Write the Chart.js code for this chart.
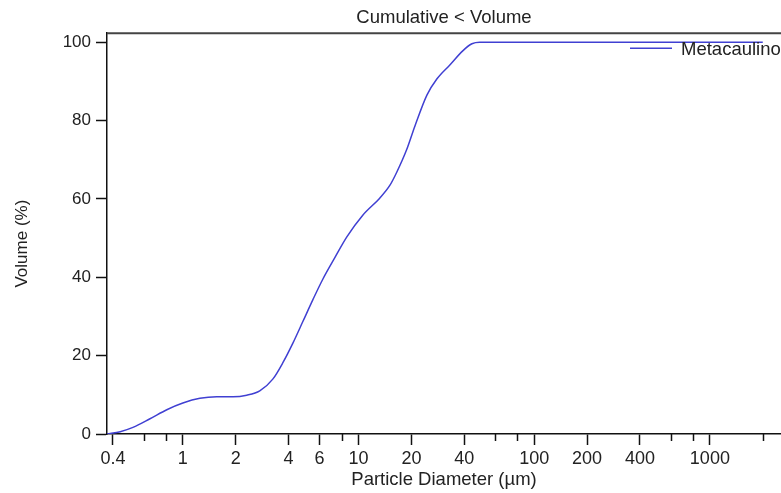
<!DOCTYPE html>
<html>
<head>
<meta charset="utf-8">
<script src="https://cdn.jsdelivr.net/npm/chart.js@4.4.1/dist/chart.umd.min.js"></script>
<style>
    html, body { margin: 0; padding: 0; background: #fff; }
    #wrap { width: 781px; height: 493px; }
</style>
</head>
<body>
<div id="wrap"><canvas id="psdChart" width="781" height="493"></canvas></div>
<script>
// Dữ liệu (đường kính hạt µm / % thể tích tích lũy)
const diameters = [0.37, 0.44, 0.52, 0.65, 0.81, 1.0, 1.25, 1.56, 1.93, 2.31, 2.74, 3.25, 3.71, 4.23, 4.82, 5.5, 6.26, 7.33, 8.58, 10.6, 13.2, 15.1, 16.5, 18.8, 20.9, 24.5, 27.9, 33.1, 39.2, 44.2, 49, 100, 2000];
const volumes = [0, 0.6, 1.7, 3.9, 6.2, 7.9, 9.1, 9.5, 9.5, 9.9, 11.0, 14.0, 18.2, 23.2, 28.7, 34.3, 39.5, 45.0, 50.3, 55.9, 60.2, 63.5, 66.8, 72.6, 78.5, 86.5, 90.6, 94.2, 97.8, 99.6, 100, 100, 100];
const seriesName = 'Metacaulino';

// Nhãn trục
const majorTicks = [0.4, 1, 2, 4, 6, 10, 20, 40, 100, 200, 400, 1000];
const minorTicks = [0.6, 0.8, 8, 60, 80, 600, 800, 2000];
const yTicks = [0, 20, 40, 60, 80, 100];

const FONT = 'Liberation Sans, Arial, sans-serif';
const TEXT = '#222';
const LINE = 'rgb(64, 64, 210)';

// Vẽ vạch phụ, viền trên, tiêu đề trục y và chú thích
const extras = {
    id: 'extras',
    afterDraw(chart) {
        const { ctx, chartArea, scales } = chart;
        ctx.save();
        ctx.strokeStyle = '#111';
        ctx.lineWidth = 1.5;
        minorTicks.forEach(v => {
            const x = Math.round(scales.x.getPixelForValue(v)) + 0.5;
            ctx.beginPath();
            ctx.moveTo(x, chartArea.bottom);
            ctx.lineTo(x, chartArea.bottom + 7);
            ctx.stroke();
        });

        ctx.strokeStyle = '#444';
        ctx.lineWidth = 2;
        ctx.beginPath();
        ctx.moveTo(chartArea.left, chartArea.top);
        ctx.lineTo(chartArea.right, chartArea.top);
        ctx.stroke();

        // tiêu đề trục y
        ctx.save();
        ctx.translate(22, (chartArea.top + chartArea.bottom) / 2 + 10);
        ctx.rotate(-Math.PI / 2);
        ctx.fillStyle = TEXT;
        ctx.font = '17px ' + FONT;
        ctx.textAlign = 'center';
        ctx.textBaseline = 'middle';
        ctx.fillText('Volume (%)', 0, 0);
        ctx.restore();

        // chú thích
        const ly = chartArea.top + 15;
        ctx.strokeStyle = LINE;
        ctx.lineWidth = 1.5;
        ctx.beginPath();
        ctx.moveTo(chartArea.right - 151, ly);
        ctx.lineTo(chartArea.right - 109, ly);
        ctx.stroke();
        ctx.fillStyle = TEXT;
        ctx.font = '18.5px ' + FONT;
        ctx.textBaseline = 'middle';
        ctx.textAlign = 'left';
        ctx.fillText(seriesName, chartArea.right - 100, ly + 2);
        ctx.restore();
    }
};

const ctx = document.getElementById('psdChart').getContext('2d');
const chart = new Chart(ctx, {
    type: 'line',
    data: {
        datasets: [{
            label: seriesName,
            data: diameters.map((d, i) => ({ x: d, y: volumes[i] })),
            borderColor: LINE,
            borderWidth: 1.5,
            pointRadius: 0,
            fill: false,
            cubicInterpolationMode: 'monotone'
        }]
    },
    options: {
        responsive: false,
        animation: false,
        devicePixelRatio: 1,
        layout: { padding: 0 },
        plugins: {
            legend: { display: false },
            tooltip: { enabled: false },
            title: {
                display: true,
                text: 'Cumulative < Volume',
                fullSize: false,
                color: TEXT,
                font: { family: FONT, size: 18.5, weight: 'normal', lineHeight: 1.2 },
                padding: { top: 7, bottom: 4 }
            }
        },
        scales: {
            x: {
                type: 'logarithmic',
                min: 0.37,
                max: 2540,
                afterBuildTicks: scale => {
                    scale.ticks = majorTicks.concat(minorTicks).sort((a, b) => a - b).map(v => ({ value: v }));
                },
                afterFit: scale => { scale.height = 59; },
                ticks: {
                    autoSkip: false,
                    maxRotation: 0,
                    padding: 3,
                    color: TEXT,
                    font: { family: FONT, size: 18 },
                    callback: v => majorTicks.includes(v) ? String(v) : ''
                },
                grid: {
                    drawOnChartArea: false,
                    tickLength: 11,
                    tickWidth: 1.5,
                    tickColor: c => (c.tick && majorTicks.includes(c.tick.value)) ? '#111' : 'rgba(0,0,0,0)'
                },
                border: { display: true, color: '#111', width: 1.5 },
                title: {
                    display: true,
                    text: 'Particle Diameter (µm)',
                    color: TEXT,
                    font: { family: FONT, size: 18.5, lineHeight: 1.2 },
                    padding: { top: 0, bottom: 2 }
                }
            },
            y: {
                min: 0,
                max: 102.3,
                afterBuildTicks: scale => {
                    scale.ticks = yTicks.map(v => ({ value: v }));
                },
                afterFit: scale => { scale.width = 107; },
                ticks: {
                    padding: 5,
                    color: TEXT,
                    font: { family: FONT, size: 17 }
                },
                grid: {
                    drawOnChartArea: false,
                    tickLength: 11,
                    tickWidth: 1.5,
                    tickColor: '#111'
                },
                border: { display: true, color: '#111', width: 1.5 }
            }
        }
    },
    plugins: [extras]
});
</script>
</body>
</html>
